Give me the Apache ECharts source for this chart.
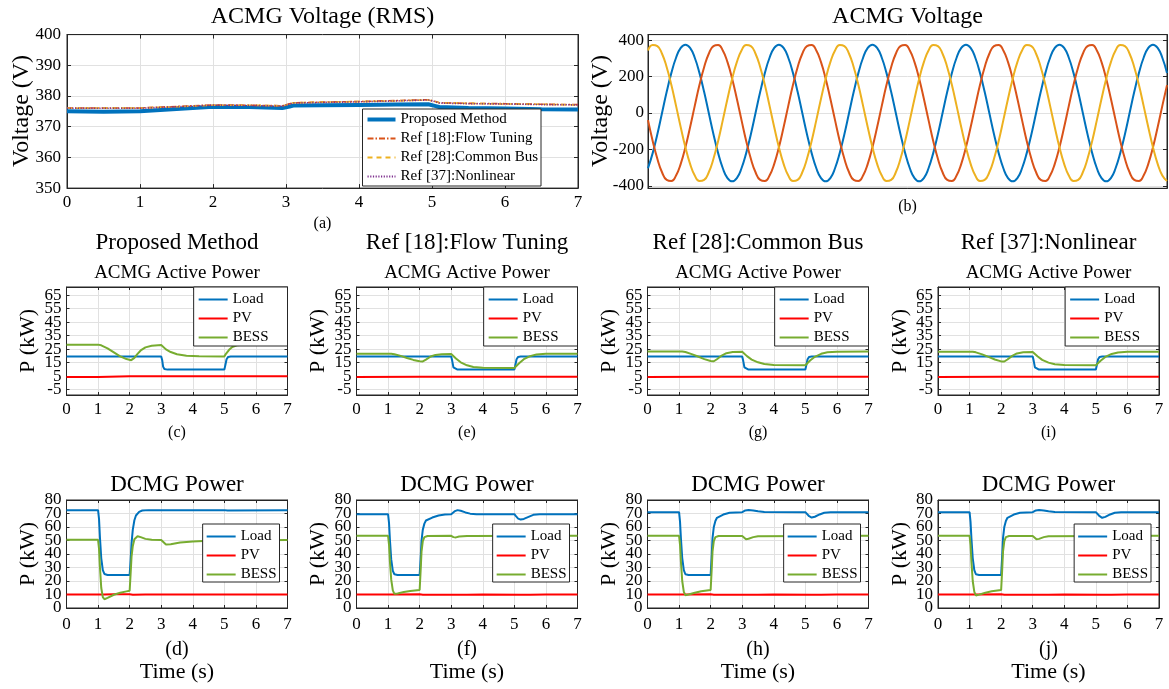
<!DOCTYPE html>
<html><head><meta charset="utf-8">
<script src="https://cdn.jsdelivr.net/npm/echarts@6/dist/echarts.min.js"></script>
<style>html,body{margin:0;padding:0;background:#fff}#c{width:1169px;height:689px}</style>
</head><body><div id="c"></div>
<script>
// ---------------- DATA ----------------
// (a) ACMG Voltage (RMS)
const rmsT      = [0,0.5,1.0,1.5,2.0,2.5,2.95,3.05,3.1,3.5,4.0,4.5,4.95,5.05,5.1,5.5,6.0,6.5,7.0];
const rmsProp   = [375.0,374.9,375.0,375.8,376.5,376.4,376.1,376.6,376.9,377.0,377.1,377.2,377.3,376.7,376.4,376.1,375.9,375.7,375.6];
const rmsRef18  = [376.1,376.1,376.1,376.6,377.1,377.0,376.8,377.5,377.8,378.0,378.2,378.5,378.8,378.2,377.8,377.6,377.5,377.3,377.2];
const rmsRef28  = [376.0,376.1,376.1,376.5,377.0,377.0,376.8,377.4,377.8,378.0,378.2,378.4,378.7,378.1,377.8,377.6,377.4,377.3,377.1];
const rmsRef37  = [376.0,376.0,376.0,376.5,377.0,376.9,376.7,377.4,377.7,377.9,378.1,378.4,378.7,378.1,377.7,377.5,377.4,377.2,377.1];
const rmsNames  = ['Proposed Method','Ref [18]:Flow Tuning','Ref [28]:Common Bus','Ref [37]:Nonlinear'];

// (b) ACMG Voltage (instantaneous, sample time in ms)
const tB = [0,1,2,3,4,5,6,7,8,9,10,11,12,13,14,15,16,17,18,19,20,21,22,23,24,25,26,27,28,29,30,31,32,33,34,35,36,37,38,39,40,41,42,43,44,45,46,47,48,49,50,51,52,53,54,55,56,57,58,59,60,61,62,63,64,65,66,67,68,69,70,71,72,73,74,75,76,77,78,79,80,81,82,83,84,85,86,87,88,89,90,91,92,93,94,95,96,97,98,99,100,101,102,103,104,105,106,107,108,109,110,111];
const vBlue = [-303,-220,-116,0,116,220,303,357,375,357,303,220,116,0,-116,-220,-303,-357,-375,-357,
 -303,-220,-116,0,116,220,303,357,375,357,303,220,116,0,-116,-220,-303,-357,-375,-357,
 -303,-220,-116,0,116,220,303,357,375,357,303,220,116,0,-116,-220,-303,-357,-375,-357,
 -303,-220,-116,0,116,220,303,357,375,357,303,220,116,0,-116,-220,-303,-357,-375,-357,
 -303,-220,-116,0,116,220,303,357,375,357,303,220,116,0,-116,-220,-303,-357,-375,-357,
 -303,-220,-116,0,116,220,303,357,375,357,303,220];
const vRed = [-39,-153,-251,-325,-367,-373,-343,-279,-188,-78,39,153,251,325,367,373,343,279,188,78,
 -39,-153,-251,-325,-367,-373,-343,-279,-188,-78,39,153,251,325,367,373,343,279,188,78,
 -39,-153,-251,-325,-367,-373,-343,-279,-188,-78,39,153,251,325,367,373,343,279,188,78,
 -39,-153,-251,-325,-367,-373,-343,-279,-188,-78,39,153,251,325,367,373,343,279,188,78,
 -39,-153,-251,-325,-367,-373,-343,-279,-188,-78,39,153,251,325,367,373,343,279,188,78,
 -39,-153,-251,-325,-367,-373,-343,-279,-188,-78,39,153];
const vYellow = [343,373,367,325,251,153,39,-78,-188,-279,-343,-373,-367,-325,-251,-153,-39,78,188,279,
 343,373,367,325,251,153,39,-78,-188,-279,-343,-373,-367,-325,-251,-153,-39,78,188,279,
 343,373,367,325,251,153,39,-78,-188,-279,-343,-373,-367,-325,-251,-153,-39,78,188,279,
 343,373,367,325,251,153,39,-78,-188,-279,-343,-373,-367,-325,-251,-153,-39,78,188,279,
 343,373,367,325,251,153,39,-78,-188,-279,-343,-373,-367,-325,-251,-153,-39,78,188,279,
 343,373,367,325,251,153,39,-78,-188,-279,-343,-373];
const vTicksY = [-400,-200,0,200,400];

// Row 2: ACMG Active Power [t (s), P (kW)]
const acTicksY  = [-5,5,15,25,35,45,55,65];
const acLabelsA = [-5,15,35,55];
const acLabelsB = [5,25,45,65];
const loadC = [[0,19.5],[3.0,19.5],[3.03,17],[3.06,12],[3.1,10.2],[3.2,9.8],[5.0,9.8],[5.03,13],[5.07,17.5],[5.12,19.2],[5.2,19.5],[7,19.5]];
const pvC   = [[0,4.3],[1,4.4],[2,4.8],[3,4.9],[7,4.9]];
const bessC = [[0,28.3],[1.0,28.3],[1.1,27.8],[1.3,25.6],[1.5,22.6],[1.7,19.6],[1.9,17.6],[2.05,16.8],[2.15,18.5],[2.25,21.5],[2.35,24.0],[2.5,26.3],[2.7,27.5],[3.0,28.0],[3.05,26.8],[3.15,24.8],[3.3,22.8],[3.5,21.2],[3.8,20.1],[4.2,19.7],[5.0,19.6],[5.05,21.5],[5.15,24.5],[5.25,26.6],[5.4,27.8],[5.6,28.2],[7,28.3]];
const loadE = [[0,19.5],[3.0,19.5],[3.03,16.5],[3.07,11.5],[3.12,10.1],[3.2,9.8],[5.0,9.8],[5.03,13],[5.07,17.5],[5.12,19.2],[5.2,19.5],[7,19.5]];
const pvE   = [[0,4.4],[2,4.5],[7,4.6]];
const bessE = [[0,21.5],[1.1,21.5],[1.2,21.2],[1.4,20.0],[1.6,18.4],[1.8,17.0],[2.0,16.0],[2.1,15.9],[2.2,17.2],[2.35,19.5],[2.5,20.7],[2.7,21.2],[3.0,21.3],[3.05,20.5],[3.15,18.0],[3.3,15.2],[3.5,13.0],[3.7,11.8],[4.0,11.2],[5.0,11.0],[5.05,12.0],[5.15,14.5],[5.3,17.5],[5.5,19.8],[5.7,21.0],[6.0,21.5],[7,21.5]];
const loadG = [[0,19.5],[3.0,19.5],[3.03,16.5],[3.07,11.5],[3.12,10.1],[3.2,9.8],[5.0,9.8],[5.03,13],[5.07,17.5],[5.12,19.2],[5.2,19.5],[7,19.5]];
const pvG   = [[0,4.4],[2,4.5],[7,4.6]];
const bessG = [[0,23.2],[1.1,23.2],[1.2,22.8],[1.4,21.3],[1.6,19.5],[1.8,17.6],[2.0,16.2],[2.1,16.0],[2.2,17.5],[2.35,20.2],[2.5,22.0],[2.7,22.8],[3.0,23.0],[3.05,22.0],[3.15,19.8],[3.3,17.2],[3.5,15.2],[3.7,14.0],[4.0,13.3],[5.0,13.1],[5.05,14.0],[5.15,16.5],[5.3,19.3],[5.5,21.5],[5.7,22.6],[6.0,23.1],[7,23.2]];
const loadI = [[0,19.5],[3.0,19.5],[3.03,16.5],[3.07,11.5],[3.12,10.1],[3.2,9.8],[5.0,9.8],[5.03,13],[5.07,17.5],[5.12,19.2],[5.2,19.5],[7,19.5]];
const pvI   = [[0,4.4],[2,4.5],[7,4.6]];
const bessI = [[0,23.0],[1.1,23.0],[1.2,22.6],[1.4,21.1],[1.6,19.2],[1.8,17.3],[2.0,15.9],[2.1,15.8],[2.2,17.3],[2.35,20.0],[2.5,21.8],[2.7,22.6],[3.0,22.9],[3.05,22.0],[3.15,19.7],[3.3,17.0],[3.5,15.0],[3.7,13.8],[4.0,13.2],[5.0,13.0],[5.05,13.9],[5.15,16.4],[5.3,19.2],[5.5,21.4],[5.7,22.5],[6.0,23.0],[7,23.1]];

// Row 3: DCMG Power [t (s), P (kW)]
const dcLabelsA = [0,20,40,60,80];
const dcLabelsB = [10,30,50,70];
const loadD = [[0,72.5],[1.0,72.5],[1.03,66],[1.06,52],[1.1,37],[1.15,28],[1.2,25.2],[1.3,24.5],[2.0,24.5],[2.03,35],[2.06,48],[2.1,58],[2.15,65],[2.2,68.5],[2.3,71.2],[2.4,72.2],[2.6,72.5],[5.0,72.5],[5.1,72.2],[7,72.4]];
const pvD   = [[0,10],[1.2,10],[1.5,10.1],[2.0,10.2],[2.1,9.9],[2.5,10],[7,10]];
const bessD = [[0,50.5],[1.0,50.5],[1.03,44],[1.06,30],[1.1,15],[1.15,8],[1.2,6.5],[1.3,7.5],[1.5,9.8],[1.7,11.3],[1.9,12.3],[2.0,12.8],[2.03,25],[2.06,38],[2.1,46],[2.15,51],[2.25,53.2],[2.35,52.5],[2.5,51.2],[2.7,50.6],[3.0,50.3],[3.05,49],[3.15,47],[3.3,47.3],[3.6,48.5],[4.0,49.3],[4.5,49.8],[5,50],[6,50.2],[7,50.3]];
const loadF = [[0,69.5],[1.0,69.5],[1.03,63],[1.06,50],[1.1,36],[1.15,27.5],[1.2,25],[1.3,24.5],[2.0,24.5],[2.03,36],[2.06,50],[2.1,58],[2.15,62.5],[2.2,64.8],[2.4,67],[2.6,68.5],[2.8,69.3],[3.0,69.5],[3.05,70.2],[3.12,71.8],[3.2,72.5],[3.3,72],[3.45,70.8],[3.6,69.9],[3.8,69.5],[5.0,69.5],[5.05,68],[5.12,66.2],[5.2,65.5],[5.3,66],[5.45,67.5],[5.6,69],[5.8,69.5],[7,69.5]];
const pvF   = [[0,10],[1.2,10],[2.0,10.2],[2.1,9.9],[3.5,9.9],[4.0,10],[5.2,9.9],[5.5,9.8],[6,10],[7,10]];
const bessF = [[0,53.5],[1.0,53.5],[1.03,47],[1.06,34],[1.1,21],[1.15,13],[1.2,10.5],[1.3,10.8],[1.5,11.8],[1.7,12.6],[2.0,13.3],[2.03,27],[2.06,42],[2.1,49.5],[2.15,52.5],[2.25,53.3],[3.0,53.5],[3.07,52.5],[3.15,52.3],[3.25,53],[3.5,53.4],[7,53.5]];
const loadH = [[0,71],[1.0,71],[1.03,64],[1.06,51],[1.1,37],[1.15,28],[1.2,25],[1.3,24.5],[2.0,24.5],[2.03,37],[2.06,52],[2.1,60],[2.15,64.5],[2.2,66.8],[2.4,69.2],[2.6,70.5],[3.0,71],[3.1,72.3],[3.2,72.6],[3.35,72.3],[3.5,71.6],[3.7,71.1],[5.0,71],[5.05,70],[5.12,68],[5.2,67],[5.3,67.6],[5.45,69.3],[5.6,70.6],[5.8,71],[7,71]];
const pvH   = [[0,10],[1.2,10],[2.0,10.2],[2.1,9.9],[3.5,9.9],[4.0,10],[5.2,9.9],[5.5,9.8],[6,10],[7,10]];
const bessH = [[0,53.5],[1.0,53.5],[1.03,47],[1.06,34],[1.1,20],[1.15,12],[1.2,9.5],[1.3,10],[1.5,11.3],[1.7,12.4],[2.0,13.3],[2.03,27],[2.06,42],[2.1,49.5],[2.15,52.5],[2.25,53.3],[3.0,53.4],[3.05,52.5],[3.12,51.0],[3.2,51.3],[3.35,52.5],[3.5,53.2],[7,53.5]];
const loadJ = [[0,71],[1.0,71],[1.03,64],[1.06,51],[1.1,37],[1.15,28],[1.2,25],[1.3,24.5],[2.0,24.5],[2.03,37],[2.06,52],[2.1,60],[2.15,64.5],[2.2,66.8],[2.4,69.2],[2.6,70.5],[3.0,71],[3.1,72.3],[3.2,72.6],[3.35,72.3],[3.5,71.6],[3.7,71.1],[5.0,71],[5.05,70],[5.12,68],[5.2,66.8],[5.3,67.5],[5.45,69.3],[5.6,70.6],[5.8,71],[7,71]];
const pvJ   = [[0,10],[1.2,10],[2.0,10.2],[2.1,9.9],[3.5,9.9],[4.0,10],[5.2,9.9],[5.5,9.8],[6,10],[7,10]];
const bessJ = [[0,53.5],[1.0,53.5],[1.03,47],[1.06,34],[1.1,20],[1.15,12],[1.2,9.3],[1.3,9.9],[1.5,11.3],[1.7,12.4],[2.0,13.3],[2.03,27],[2.06,42],[2.1,49.5],[2.15,52.5],[2.25,53.3],[3.0,53.4],[3.05,52.5],[3.12,50.9],[3.2,51.2],[3.35,52.5],[3.5,53.2],[7,53.5]];

const methodNames = ['Proposed Method','Ref [18]:Flow Tuning','Ref [28]:Common Bus','Ref [37]:Nonlinear'];
const row2Tags = ['(c)','(e)','(g)','(i)'];
const row3Tags = ['(d)','(f)','(h)','(j)'];
const row2Data = [[loadC,pvC,bessC],[loadE,pvE,bessE],[loadG,pvG,bessG],[loadI,pvI,bessI]];
const row3Data = [[loadD,pvD,bessD],[loadF,pvF,bessF],[loadH,pvH,bessH],[loadJ,pvJ,bessJ]];
const powerNames = ['Load','PV','BESS'];

// ---------------- STYLE / LAYOUT ----------------
const W = 1169;
const FONT = 'Liberation Serif';
const AX = '#262626';
const GRIDC = '#e1e1e1';
const BLUE='#0072BD', RED='#FF0000', GREEN='#77AC30', ORANGE='#D95319', YELLOW='#EDB120', PURPLE='#7E2F8E';
const powerColors = [BLUE, RED, GREEN];

const option = {animation:false, backgroundColor:'#fff', grid:[], xAxis:[], yAxis:[], series:[], legend:[], graphic:[]};

function panel(p) {
  const g = option.grid.length;
  option.grid.push({left:p.l, top:p.t, width:p.w, height:p.h, show:true, borderColor:AX, borderWidth:1,
    backgroundColor:'#fff', containLabel:false, outerBoundsMode:'none'});
  const xi = option.xAxis.length, yi = option.yAxis.length;
  const xb = {type:'value', gridIndex:g, min:p.xMin, max:p.xMax};
  if (p.xInt) xb.interval = p.xInt;
  const line = {show:true, onZero:false, lineStyle:{color:AX, width:1}};
  const labStyle = {color:'#000', fontFamily:FONT, fontSize:17, showMinLabel:true, showMaxLabel:true, hideOverlap:false};
  option.xAxis.push(Object.assign({}, xb, {position:'bottom', axisLine:line,
    axisTick:{show:p.xTick!==false, inside:true, length:p.tl, lineStyle:{color:AX}},
    axisLabel:Object.assign({show:p.xLab!==false, margin:p.xm}, labStyle),
    splitLine:{show:p.xGrid!==false, lineStyle:{color:GRIDC, width:1}}}));
  option.xAxis.push(Object.assign({}, xb, {position:'top', axisLine:line,
    axisTick:{show:p.xTick!==false, inside:true, length:p.tl, lineStyle:{color:AX}},
    axisLabel:{show:false}, splitLine:{show:false}}));
  const yb = {type:'value', gridIndex:g, min:p.yMin, max:p.yMax};
  if (p.yInt) yb.interval = p.yInt;
  const cv = p.yTicks ? {customValues:p.yTicks} : {};
  option.yAxis.push(Object.assign({}, yb, {position:'left', axisLine:line,
    axisTick:Object.assign({show:true, inside:true, length:p.tl, lineStyle:{color:AX}}, cv),
    axisLabel:Object.assign({show:!p.labSets, margin:p.ym}, labStyle, cv),
    splitLine:{show:true, lineStyle:{color:GRIDC, width:1}}}));
  option.yAxis.push(Object.assign({}, yb, {position:'right', axisLine:line,
    axisTick:Object.assign({show:true, inside:true, length:p.tl, lineStyle:{color:AX}}, cv),
    axisLabel:{show:false}, splitLine:{show:false}}));
  // interleaved tick-label sets (labels overlap in the original, so split them over two label-only axes)
  (p.labSets || []).forEach(function (set) {
    option.yAxis.push({type:'value', gridIndex:g, min:p.yMin, max:p.yMax, position:'left', offset:0,
      axisLine:{show:false, onZero:false}, axisTick:{show:false}, splitLine:{show:false},
      axisLabel:Object.assign({show:true, margin:p.ym}, labStyle, {customValues:set})});
  });
  return {xi:xi, yi:yi};
}
function lineSeries(ax, name, data, color, width, type, extra) {
  return Object.assign({type:'line', name:name, xAxisIndex:ax.xi, yAxisIndex:ax.yi, data:data,
    symbol:'none', color:color, itemStyle:{color:color},
    lineStyle:{color:color, width:width, type:type||'solid'}, z:3}, extra||{});
}
function txt(x, y, s, size, rot) {
  return {type:'text', x:x, y:y, rotation:rot||0, z:100,
    style:{text:s, fontFamily:FONT, fontSize:size, fill:'#000',
      textAlign:'center', textVerticalAlign:'middle', align:'center', verticalAlign:'middle'}};
}
const legText = {fontFamily:FONT, fontSize:15, color:'#000', lineHeight:15};
const legItem = {opacity:0, borderWidth:0};

// ---- (a)
const A = {l:67, t:34.6, w:511, h:153.5};
const axA = panel({l:A.l, t:A.t, w:A.w, h:A.h, xMin:0, xMax:7, xInt:1, yMin:350, yMax:400, yInt:10, tl:4, xm:6, ym:6});
const pairs = (xs, ys) => xs.map((x, i) => [x, ys[i]]);
option.series.push(lineSeries(axA, rmsNames[0], pairs(rmsT, rmsProp), BLUE, 4));
option.series.push(lineSeries(axA, rmsNames[1], pairs(rmsT, rmsRef18), ORANGE, 1.6, [6,2,1.5,2]));
option.series.push(lineSeries(axA, rmsNames[2], pairs(rmsT, rmsRef28), YELLOW, 1.6, [5,4]));
option.series.push(lineSeries(axA, rmsNames[3], pairs(rmsT, rmsRef37), PURPLE, 1.6, [1.2,1.5]));
option.legend.push({orient:'vertical', right:W - 541, top:109, padding:[3,3,2,3], itemGap:4,
  itemWidth:28, itemHeight:15, backgroundColor:'#fff', borderColor:AX, borderWidth:1, borderRadius:0,
  textStyle:legText, selectedMode:false, itemStyle:legItem,
  data:[{name:rmsNames[0], lineStyle:{width:4}}, rmsNames[1], rmsNames[2], rmsNames[3]]});
option.graphic.push(txt(A.l + A.w/2, 17, 'ACMG Voltage (RMS)', 24));
option.graphic.push(txt(22, 111, 'Voltage (V)', 24, Math.PI/2));
option.graphic.push(txt(A.l + A.w/2, 224, '(a)', 16));

// ---- (b)
const B = {l:648, t:34.6, w:519, h:153.7};
const axB = panel({l:B.l, t:B.t, w:B.w, h:B.h, xMin:0, xMax:111, xTick:false, xLab:false, xGrid:false,
  yMin:-413, yMax:430, yTicks:vTicksY, tl:4, xm:6, ym:4});
option.series.push(lineSeries(axB, 'Va', pairs(tB, vBlue), BLUE, 2, 'solid', {smooth:true}));
option.series.push(lineSeries(axB, 'Vb', pairs(tB, vRed), ORANGE, 2, 'solid', {smooth:true}));
option.series.push(lineSeries(axB, 'Vc', pairs(tB, vYellow), YELLOW, 2, 'solid', {smooth:true}));
option.graphic.push(txt(B.l + B.w/2, 17, 'ACMG Voltage', 24));
option.graphic.push(txt(601, 111, 'Voltage (V)', 24, Math.PI/2));
option.graphic.push(txt(B.l + B.w/2, 207, '(b)', 16));

// ---- rows 2 and 3
const colLefts = [66.5, 356.5, 647.5, 938];
const colW = 221;
for (let k = 0; k < 4; k++) {
  const l = colLefts[k], cx = l + colW/2;
  // row 2
  const ax2 = panel({l:l, t:287, w:colW, h:108, xMin:0, xMax:7, xInt:1, yMin:-9, yMax:71, yTicks:acTicksY,
    labSets:[acLabelsA, acLabelsB], tl:3, xm:6.5, ym:5});
  for (let s = 0; s < 3; s++) option.series.push(lineSeries(ax2, powerNames[s], row2Data[k][s], powerColors[s], 2));
  option.legend.push({orient:'vertical', right:W - (l + colW), top:287, padding:[5,19,1,4], itemGap:4,
    itemWidth:29, itemHeight:15, backgroundColor:'#fff', borderColor:AX, borderWidth:1,
    textStyle:legText, selectedMode:false, itemStyle:legItem, data:powerNames.slice()});
  option.graphic.push(txt(cx, 243, methodNames[k], 23));
  option.graphic.push(txt(cx, 273, 'ACMG Active Power', 19));
  option.graphic.push(txt(cx, 433, row2Tags[k], 16));
  option.graphic.push(txt(l - 38, 341, 'P (kW)', 22, Math.PI/2));
  // row 3
  const ax3 = panel({l:l, t:500, w:colW, h:108, xMin:0, xMax:7, xInt:1, yMin:0, yMax:80, yInt:10,
    labSets:[dcLabelsA, dcLabelsB], tl:3, xm:8.5, ym:5});
  for (let s = 0; s < 3; s++) option.series.push(lineSeries(ax3, powerNames[s], row3Data[k][s], powerColors[s], 2));
  option.legend.push({orient:'vertical', right:W - (l + colW - 8), top:524, padding:[5,3,0,3], itemGap:4,
    itemWidth:29, itemHeight:15, backgroundColor:'#fff', borderColor:AX, borderWidth:1,
    textStyle:legText, selectedMode:false, itemStyle:legItem, data:powerNames.slice()});
  option.graphic.push(txt(cx, 485, 'DCMG Power', 23));
  option.graphic.push(txt(cx, 650, row3Tags[k], 20));
  option.graphic.push(txt(cx, 672, 'Time (s)', 22));
  option.graphic.push(txt(l - 38, 554, 'P (kW)', 22, Math.PI/2));
}

const chart = echarts.init(document.getElementById('c'), null, {renderer:'canvas', width:1169, height:689});
chart.setOption(option);
</script></body></html>
